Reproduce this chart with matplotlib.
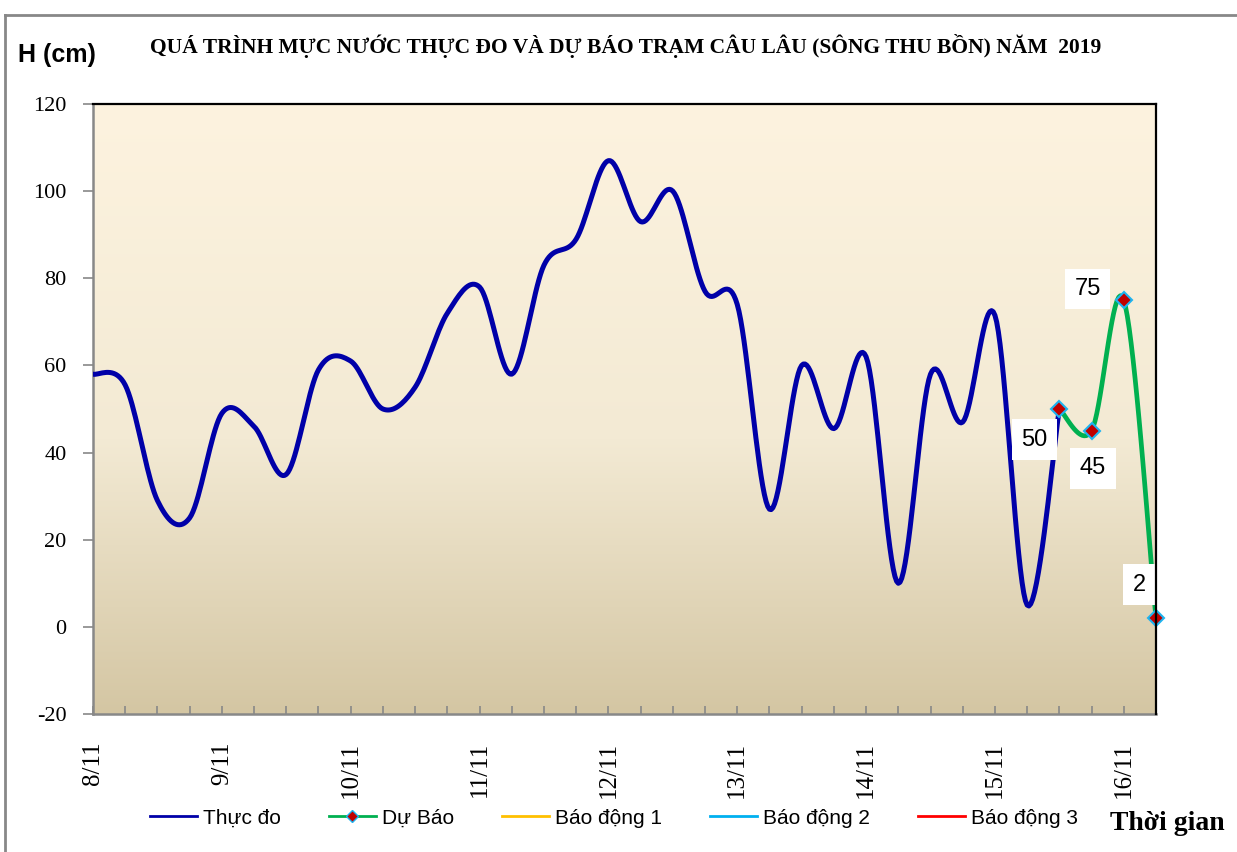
import numpy as np
import matplotlib
matplotlib.use("Agg")
from matplotlib import pyplot as plt
from matplotlib.lines import Line2D

plt.rcParams['axes.unicode_minus'] = False

# data (6-hourly steps from 8/11 00h)
day_labels = ['8/11', '9/11', '10/11', '11/11', '12/11', '13/11', '14/11', '15/11', '16/11']
observed = [58, 55.5, 29, 25, 49, 46, 35, 59, 61, 50, 55, 72, 78, 58, 83, 89,
            107, 93, 100, 77, 74, 27, 60, 45.5, 62, 10, 58, 47, 71.5, 5, 50]
forecast = [50, 45, 75, 2]
forecast_start = 30
alarm_levels = [200, 300, 400]  # BĐ1, BĐ2, BĐ3 (off scale)


def smooth(x, y, n=20):
    # excel-like smoothed line (bezier through points)
    x = np.asarray(x, float)
    y = np.asarray(y, float)
    px = np.concatenate([[x[0]], x, [x[-1]]])
    py = np.concatenate([[y[0]], y, [y[-1]]])
    xs, ys = [], []
    t = np.linspace(0, 1, n)
    for i in range(1, len(px) - 2):
        p0x, p0y = px[i], py[i]
        p3x, p3y = px[i + 1], py[i + 1]
        c1x = p0x + (px[i + 1] - px[i - 1]) / 6
        c1y = p0y + (py[i + 1] - py[i - 1]) / 6
        c2x = p3x - (px[i + 2] - px[i]) / 6
        c2y = p3y - (py[i + 2] - py[i]) / 6
        b0 = (1 - t) ** 3
        b1 = 3 * (1 - t) ** 2 * t
        b2 = 3 * (1 - t) * t ** 2
        b3 = t ** 3
        xs.append(b0 * p0x + b1 * c1x + b2 * c2x + b3 * p3x)
        ys.append(b0 * p0y + b1 * c1y + b2 * c2y + b3 * p3y)
    return np.concatenate(xs), np.concatenate(ys)


serif = 'Liberation Serif'
sans = 'Liberation Sans'

fig = plt.figure(figsize=(12.37, 8.52), dpi=100)
ax = fig.add_axes([93 / 1237, 1 - 714 / 852, (1156 - 93) / 1237, (714 - 104) / 852])

# gradient background
grad = np.linspace(0, 1, 256)
stops = np.array([[253, 243, 223], [243, 234, 212], [212, 198, 163]]) / 255
pos = [0, 0.55, 1]
cols = np.stack([np.interp(grad, pos, stops[:, k]) for k in range(3)], axis=-1)
ax.imshow(cols[:, None, :], extent=[0, 1, 0, 1], transform=ax.transAxes,
          aspect='auto', zorder=0, origin='upper')

x_obs = np.arange(len(observed))
x_fc = np.arange(forecast_start, forecast_start + len(forecast))

sx, sy = smooth(x_obs, observed)
ax.plot(sx, sy, color='#0000A8', lw=3.6, zorder=3, solid_capstyle='round')
fx, fy = smooth(x_fc, forecast)
ax.plot(fx, fy, color='#00B050', lw=3.4, zorder=4, solid_capstyle='round')
ax.plot(x_fc, forecast, ls='none', marker='D', ms=8.5, mfc='#C00000',
        mec='#1EB4F0', mew=1.5, zorder=5, clip_on=False)

alarm_colors = ['#FFC000', '#00B0F0', '#FF0000']
for lvl, c in zip(alarm_levels, alarm_colors):
    ax.axhline(lvl, color=c, lw=2)

offsets = [(-18, -22), (1, -27), (-26, 8), (-12, 24)]
for xv, yv, off in zip(x_fc, forecast, offsets):
    ax.annotate(str(yv), (xv, yv), xytext=off, textcoords='offset points',
                ha='center', va='center', fontsize=17, family=sans, zorder=6,
                bbox=dict(boxstyle='square,pad=0.4', fc='white', ec='none'))

ax.set_xlim(0, 33)
ax.set_ylim(-20, 120)
ax.set_yticks(range(-20, 121, 20))
ax.set_xticks(range(0, 34))
ax.set_xticklabels([day_labels[i // 4] if i % 4 == 0 else '' for i in range(34)],
                   rotation=90, family=serif, fontsize=18)
ax.tick_params(axis='x', direction='in', length=6, width=1.2, color='#888888',
               pad=20)
ax.tick_params(axis='y', direction='out', length=7, width=1.2, color='#888888',
               pad=12, labelsize=16)
for lab in ax.get_yticklabels():
    lab.set_family(serif)
for s in ['left', 'bottom']:
    ax.spines[s].set_color('#888888')
    ax.spines[s].set_linewidth(1.8)
for s in ['top', 'right']:
    ax.spines[s].set_color('black')
    ax.spines[s].set_linewidth(1.6)
    ax.spines[s].set_zorder(6)

fig.text(626 / 1237, 1 - 46 / 852,
         'QUÁ TRÌNH MỰC NƯỚC THỰC ĐO VÀ DỰ BÁO TRẠM CÂU LÂU (SÔNG THU BỒN) NĂM  2019',
         ha='center', va='center', family=serif, weight='bold', fontsize=15.5)
fig.text(57 / 1237, 1 - 55 / 852, 'H (cm)', ha='center', va='center',
         family=sans, weight='bold', fontsize=18)
fig.text(1167 / 1237, 1 - 823 / 852, 'Thời gian', ha='center', va='center',
         family=serif, weight='bold', fontsize=20)

# frame around the figure
fig.add_artist(Line2D([5 / 1237, 5 / 1237], [0, 1 - 15 / 852], color='#888888',
                      lw=2, transform=fig.transFigure))
fig.add_artist(Line2D([5 / 1237, 1], [1 - 15 / 852, 1 - 15 / 852], color='#888888',
                      lw=2, transform=fig.transFigure))

handles = [
    Line2D([], [], color='#0000A8', lw=2),
    Line2D([], [], color='#00B050', lw=2, marker='D', ms=6, mfc='#C00000',
           mec='#1EB4F0', mew=1),
    Line2D([], [], color=alarm_colors[0], lw=2),
    Line2D([], [], color=alarm_colors[1], lw=2),
    Line2D([], [], color=alarm_colors[2], lw=2),
]
labels = ['Thực đo', 'Dự Báo', 'Báo động 1', 'Báo động 2', 'Báo động 3']
fig.legend(handles, labels, loc='center', bbox_to_anchor=(614 / 1237, 1 - 818 / 852),
           ncol=5, frameon=False, prop={'family': sans, 'size': 15},
           handlelength=2.25, handletextpad=0.3, columnspacing=2.3)

fig.savefig('out.png', dpi=100)
